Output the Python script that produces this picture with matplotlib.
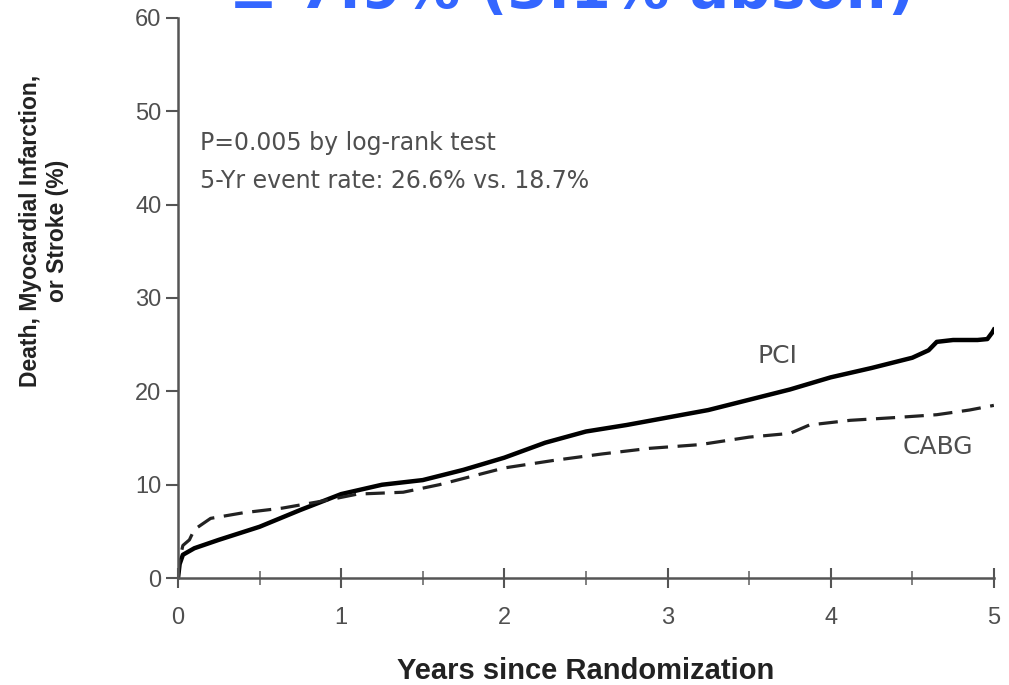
import numpy as np
import matplotlib
matplotlib.use("Agg")
import matplotlib.pyplot as plt
from matplotlib.ticker import MultipleLocator

# Cumulative event curves (years, %)
pci_years = [0, 0.01, 0.03, 0.1, 0.25, 0.5, 0.75, 1.0, 1.25, 1.5, 1.75, 2.0, 2.25,
             2.5, 2.75, 3.0, 3.25, 3.5, 3.75, 4.0, 4.25, 4.5, 4.6, 4.65, 4.75,
             4.9, 4.96, 4.99, 5.0]
pci_rate = [0, 1.5, 2.5, 3.2, 4.1, 5.5, 7.3, 9.0, 10.0, 10.5, 11.6, 12.9, 14.5,
            15.7, 16.4, 17.2, 18.0, 19.1, 20.2, 21.5, 22.5, 23.6, 24.4, 25.3, 25.5,
            25.5, 25.6, 26.3, 26.6]

cabg_years = [0, 0.01, 0.03, 0.07, 0.1, 0.2, 0.4, 0.64, 0.9, 1.1, 1.38, 1.6, 2.0,
              2.3, 2.6, 2.89, 3.2, 3.5, 3.75, 3.87, 4.12, 4.4, 4.65, 4.85, 5.0]
cabg_rate = [0, 2.0, 3.5, 4.1, 5.2, 6.4, 7.0, 7.5, 8.3, 9.0, 9.2, 10.0, 11.8,
             12.6, 13.3, 13.9, 14.3, 15.1, 15.5, 16.4, 16.9, 17.2, 17.5, 18.0, 18.5]

x_ticks = [0, 1, 2, 3, 4, 5]
y_ticks = [0, 10, 20, 30, 40, 50, 60]

grey = "#4f4f4f"
font = "DejaVu Sans"
bold_font = "Liberation Sans"

fig = plt.figure(figsize=(10.09, 6.85), dpi=100)
ax = fig.add_axes([0.1764, 0.156, 0.8086, 0.818])

ax.plot(pci_years, pci_rate, color="black", lw=3.2, solid_joinstyle="round")
ax.plot(cabg_years, cabg_rate, color="#222222", lw=2.3, dashes=(6, 3))

ax.set_xlim(0, 5)
ax.set_ylim(0, 60)
ax.set_xticks(x_ticks)
ax.set_yticks(y_ticks)
ax.xaxis.set_minor_locator(MultipleLocator(0.5))
for s in ("top", "right"):
    ax.spines[s].set_visible(False)
for s in ("left", "bottom"):
    ax.spines[s].set_color("#555555")
    ax.spines[s].set_linewidth(1.8)

ax.tick_params(axis="y", direction="out", length=9, width=1.5, color="#555555",
               labelsize=17, labelcolor=grey, pad=3)
ax.tick_params(axis="x", which="major", direction="inout", length=14, width=1.5,
               color="#555555", labelsize=17, labelcolor=grey, pad=14)
ax.tick_params(axis="x", which="minor", direction="inout", length=10, width=1.3,
               color="#777777")
for lab in ax.get_xticklabels() + ax.get_yticklabels():
    lab.set_family(bold_font)

ax.set_xlabel("Years since Randomization", fontsize=21, fontweight="bold",
              color="#222222", family=bold_font, labelpad=20)
ax.set_ylabel("Death, Myocardial Infarction,\nor Stroke (%)", fontsize=16.5,
              fontweight="bold", color="#222222", family=bold_font,
              linespacing=1.25)
ax.yaxis.set_label_coords(-0.133, 0.62)

ax.text(0.135, 46.6, "P=0.005 by log-rank test", fontsize=17, color=grey,
        family=font, va="center")
ax.text(0.135, 42.5, "5-Yr event rate: 26.6% vs. 18.7%", fontsize=17, color=grey,
        family=font, va="center")
ax.text(3.55, 23.8, "PCI", fontsize=18, color=grey, family=font, va="center")
ax.text(4.44, 14.0, "CABG", fontsize=18, color=grey, family=font, va="center")

# blue headline cut off at the top edge
fig.text(0.567, 1.012, "\u2265 7.9% (3.1% absol.)", fontsize=42, color="#3366ff",
         fontweight="bold", ha="center", va="center", family="DejaVu Sans")

fig.savefig("out.png", dpi=100)
